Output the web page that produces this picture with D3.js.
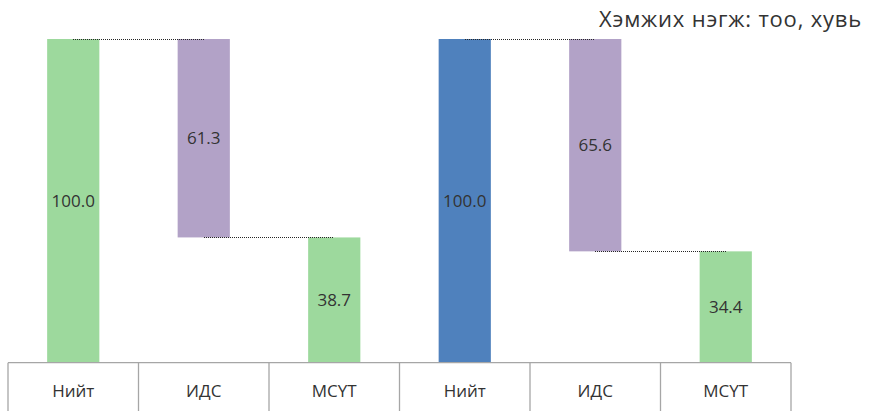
<!DOCTYPE html>
<html><head><meta charset="utf-8">
<script src="https://cdn.jsdelivr.net/npm/d3@7"></script>
<style>body{margin:0;background:#fff;}svg{display:block;font-family:"Open Sans",sans-serif;}</style>
</head><body>
<svg id="c" width="874" height="411"></svg>
<script>
const categories = ["Нийт","ИДС","МСҮТ","Нийт","ИДС","МСҮТ"];
const groups = [0,0,0,1,1,1];
const values = [100.0, 61.3, 38.7, 100.0, 65.6, 34.4];
const kinds = ["total","step","end","total","step","end"];
const colors = {total1:"#9dd99d", total2:"#4f81bd", step:"#b2a2c7", end:"#9dd99d"};
const title = "Хэмжих нэгж: тоо, хувь";

const svg = d3.select("#c");
const W = 874, H = 411;
const x0 = 8, x1 = 791, baseY = 362.7, topY = 39;

const x = d3.scaleBand().domain(d3.range(categories.length)).range([x0, x1]).paddingInner(0.6).paddingOuter(0.3);
const y = d3.scaleLinear().domain([0, 100]).range([baseY, topY]);

const bars = values.map((v, i) => {
  let lo, hi;
  if (kinds[i] === "step") { const prev = values[i-1]; hi = prev; lo = prev - v; }
  else { lo = 0; hi = v; }
  return {i, v, lo, hi, kind: kinds[i], g: groups[i]};
});

const fill = d => d.kind === "total" ? (d.g === 0 ? colors.total1 : colors.total2) : colors[d.kind];

svg.selectAll("rect.bar").data(bars).join("rect")
  .attr("class","bar")
  .attr("x", d => x(d.i)).attr("width", x.bandwidth())
  .attr("y", d => y(d.hi)).attr("height", d => y(d.lo) - y(d.hi))
  .attr("fill", fill);

const links = [];
bars.forEach((d, k) => {
  if (k > 0 && bars[k-1].g === d.g) {
    const prev = bars[k-1];
    const level = d.kind === "step" ? prev.hi : prev.lo;
    links.push({a: prev.i, b: d.i, level});
  }
});
svg.selectAll("line.link").data(links).join("line")
  .attr("x1", d => Math.round(x(d.a) + x.bandwidth()/2))
  .attr("x2", d => Math.round(x(d.b) + x.bandwidth()/2))
  .attr("y1", d => Math.round(y(d.level)) + 0.5)
  .attr("y2", d => Math.round(y(d.level)) + 0.5)
  .attr("stroke", "#262626").attr("stroke-width", 1)
  .attr("stroke-dasharray", "1,1");

svg.selectAll("text.val").data(bars).join("text")
  .attr("x", d => x(d.i) + x.bandwidth()/2)
  .attr("y", d => (y(d.lo) + y(d.hi))/2)
  .attr("dy", "0.35em")
  .attr("text-anchor","middle")
  .attr("font-size", 17).attr("fill","#333")
  .text(d => d.v.toFixed(1));

const ax = svg.append("g");
ax.append("line").attr("x1", x0).attr("x2", x1).attr("y1", baseY).attr("y2", baseY)
  .attr("stroke","#a6a6a6").attr("stroke-width",1.3);
const tickXs = d3.range(categories.length + 1).map(k => x0 + k * x.step());
ax.selectAll("line.tick").data(tickXs).join("line")
  .attr("x1", d => d).attr("x2", d => d).attr("y1", baseY).attr("y2", H)
  .attr("stroke","#a6a6a6").attr("stroke-width",1.3);
ax.selectAll("text.cat").data(categories).join("text")
  .attr("x", (d, i) => x(i) + x.bandwidth()/2)
  .attr("y", 397)
  .attr("text-anchor","middle")
  .attr("font-size", 17).attr("fill","#333")
  .text(d => d);

svg.append("text").attr("x", 862).attr("y", 27).attr("text-anchor","end")
  .attr("font-size", 22).attr("fill","#333").attr("letter-spacing", 0.8).text(title);
</script>
</body></html>
